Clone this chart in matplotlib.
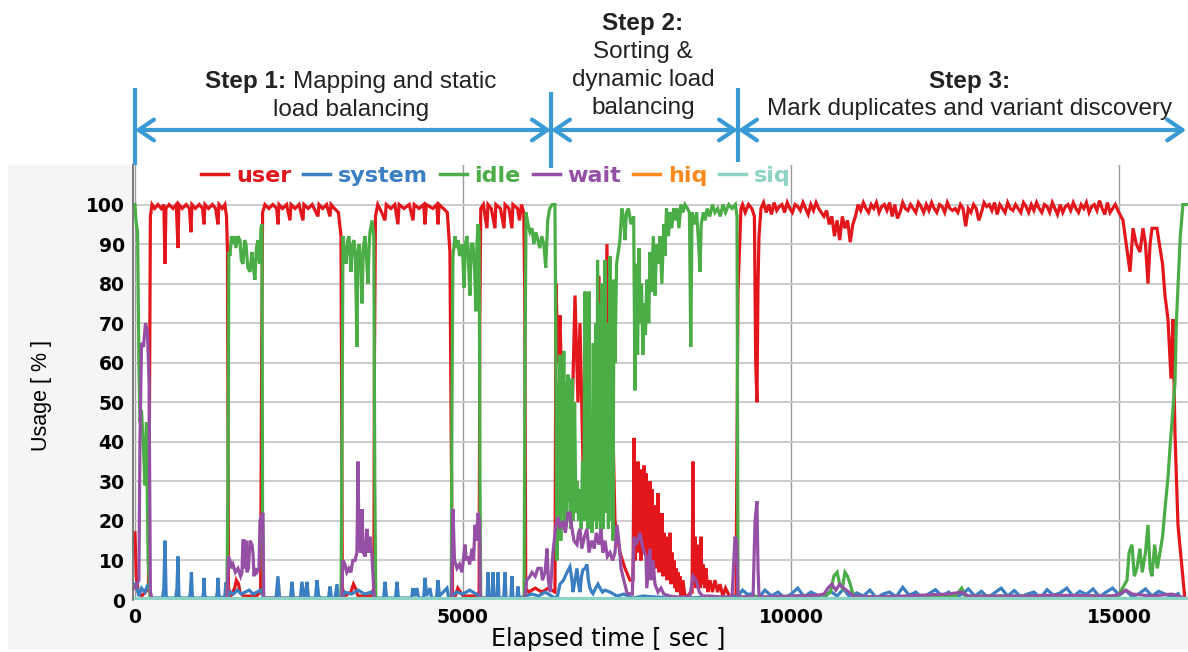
import numpy as np
import matplotlib.pyplot as plt
from matplotlib.patches import Rectangle
import matplotlib.transforms as mtransforms

plt.rcParams['font.family'] = ['Liberation Sans', 'DejaVu Sans']

# ---------------- data: (elapsed seconds, usage %) ----------------
series_names = ['user', 'system', 'idle', 'wait', 'hiq', 'siq']
series_colors = ['#e3161b', '#3a7fc2', '#4bad45', '#9550a6', '#fb8a1e', '#8dd3c4']

step_edges = [0, 6340, 9190, 16020]
# (bold part, rest of first line, further lines)
step_labels = [("Step 1:", "Mapping and static", ["load balancing"]),
               ("Step 2:", "", ["Sorting &", "dynamic load", "balancing"]),
               ("Step 3:", "", ["Mark duplicates and variant discovery"])]

user_head = [(0, 17), (20, 6), (50, 2), (100, 1), (160, 2), (205, 3), (220, 45), (235, 97), (260, 100),
             (300, 99), (350, 100), (400, 99), (440, 100), (457, 85), (472, 99), (520, 100), (580, 99),
             (630, 100), (655, 89), (670, 100), (720, 99), (780, 100), (830, 99), (853, 93), (868, 100),
             (920, 99), (980, 100), (1030, 99), (1052, 95), (1066, 100), (1120, 99), (1180, 100),
             (1230, 99), (1265, 95), (1280, 100), (1330, 99), (1370, 100), (1395, 97), (1410, 88),
             (1425, 3), (1460, 1), (1520, 3), (1545, 5), (1580, 4), (1600, 2), (1650, 1), (1750, 1),
             (1850, 1), (1915, 2), (1930, 60), (1945, 98), (1980, 100), (2040, 99), (2100, 100),
             (2160, 99), (2179, 95), (2195, 100), (2250, 99), (2310, 100), (2362, 96), (2378, 100),
             (2440, 99), (2500, 100), (2560, 96), (2575, 100), (2640, 99), (2700, 100), (2789, 97),
             (2805, 100), (2860, 99), (2920, 100), (2972, 97), (2988, 100), (3040, 99), (3100, 98),
             (3140, 92), (3160, 3), (3200, 1), (3290, 2), (3330, 4), (3360, 3), (3400, 1), (3500, 1),
             (3600, 1), (3640, 3), (3650, 62), (3665, 97), (3700, 100), (3760, 98), (3810, 96),
             (3830, 100), (3900, 99), (3960, 100), (4008, 95), (4025, 100), (4100, 99), (4180, 100),
             (4237, 96), (4255, 100), (4330, 99), (4400, 100), (4420, 95), (4440, 100), (4540, 99),
             (4600, 100), (4618, 95), (4635, 100), (4700, 99), (4760, 98), (4800, 88), (4820, 40),
             (4840, 2), (4880, 1), (4920, 3), (4960, 2), (5000, 1), (5100, 1), (5200, 1), (5245, 2),
             (5255, 70), (5270, 99), (5310, 100), (5364, 94), (5380, 100), (5430, 99), (5486, 94),
             (5500, 100), (5570, 99), (5624, 94), (5640, 100), (5700, 99), (5745, 94), (5760, 100),
             (5830, 99), (5860, 96), (5890, 100), (5925, 98), (5940, 78), (5955, 3), (6000, 2),
             (6100, 3), (6200, 2), (6300, 3), (6401, 2),
             # step 2
             (6416, 80), (6447, 60), (6477, 72), (6523, 40), (6568, 55), (6599, 30), (6660, 45),
             (6706, 77), (6751, 50), (6782, 70), (6827, 35), (6873, 40), (6934, 30), (7010, 45),
             (7071, 82), (7117, 37), (7163, 60), (7193, 90), (7224, 45), (7269, 55), (7315, 20),
             (7391, 12), (7468, 8), (7544, 5), (7590, 5), (7605, 41), (7620, 10), (7635, 30),
             (7650, 12), (7665, 35), (7680, 14), (7696, 33), (7710, 10), (7725, 28), (7742, 12),
             (7758, 34), (7772, 15), (7788, 32), (7802, 10), (7818, 27), (7833, 14), (7848, 30),
             (7863, 9), (7879, 28), (7894, 12), (7910, 24), (7925, 8), (7940, 22), (7955, 10),
             (7971, 27), (7986, 7), (8001, 20), (8016, 9), (8031, 22), (8047, 6), (8062, 17),
             (8077, 8), (8093, 16), (8108, 5), (8123, 15), (8138, 7), (8153, 17), (8168, 4),
             (8184, 12), (8199, 5), (8214, 10), (8230, 3), (8245, 8), (8260, 2), (8275, 7),
             (8291, 2), (8306, 6), (8321, 1), (8352, 5), (8380, 1), (8420, 1), (8470, 2), (8490, 2),
             (8504, 35), (8515, 4), (8534, 16), (8550, 3), (8565, 14), (8580, 5), (8595, 10),
             (8610, 3), (8626, 16), (8640, 4), (8656, 9), (8680, 3), (8702, 8), (8730, 2), (8763, 5),
             (8800, 2), (8839, 5), (8880, 2), (8915, 4), (8960, 1), (9000, 3), (9060, 1), (9160, 1),
             (9190, 78), (9235, 99), (9260, 100), (9300, 98), (9350, 100), (9400, 99), (9440, 97),
             (9460, 60), (9479, 50), (9495, 80), (9510, 92)]
# step 3 plateau, one reading every 40 s from 9540 s
user_band_start, user_band_dt = 9540, 40
user_band = [99, 100.5, 98, 100, 97.5, 100.5, 98.5, 99.5, 100, 98, 100.5, 99, 98, 100, 99.5, 98.5,
             100.5, 99, 97.5, 100, 98.5, 100.5, 99, 98,
             97, 98.5, 95, 97, 92, 96, 91, 97, 94, 96, 90.5, 95, 97,
             100, 98.5, 100.5, 99, 98, 100, 99, 100.5, 98, 99.5,
             100, 98.5, 100.5, 97, 100, 96.5, 98, 100.5, 99, 98.5,
             100, 99, 98, 100.5, 99.5, 98, 100, 98.5, 100.5, 99,
             98, 100, 99.5, 98, 100.5, 99, 98.5, 99, 98, 100,
             99, 94.5, 99, 98, 100, 99, 96, 98, 100.5, 99.5,
             100, 98.5, 100.5, 97.5, 100, 99, 98, 100.5, 99, 98.5,
             100, 99, 98, 100.5, 99.5, 98, 100, 98.5, 100.5, 99,
             98, 100, 99.5, 98, 100.5, 99, 97.5, 100, 98, 99.5,
             100, 98.5, 100.5, 99, 98, 100, 99, 100.5, 98, 99.5,
             100, 98.5, 101, 99, 97.5, 100.5, 98, 99, 100, 98.5]
user_tail = [(15057, 96), (15164, 83), (15210, 94), (15260, 90), (15316, 88), (15362, 94), (15400, 90),
             (15438, 80), (15470, 90), (15499, 94), (15575, 94), (15621, 89), (15660, 85), (15697, 77),
             (15743, 71), (15789, 56), (15819, 71), (15835, 55), (15850, 42), (15895, 19), (15956, 8),
             (16002, 0)]

idle_pts = [(0, 100), (15, 96), (40, 93), (60, 60), (76, 45), (100, 48), (130, 38), (152, 29), (175, 45),
            (200, 10), (229, 1), (260, 0), (1400, 0), (1418, 30), (1430, 88), (1448, 87), (1470, 92),
            (1494, 90), (1520, 92), (1539, 89), (1570, 92), (1600, 91), (1620, 86), (1646, 85),
            (1670, 91), (1692, 90), (1720, 84), (1753, 83), (1783, 88), (1805, 84), (1829, 81),
            (1850, 89), (1875, 91), (1890, 86), (1905, 85), (1920, 94), (1935, 95), (1945, 20),
            (1960, 0), (3140, 0), (3155, 40), (3170, 92), (3190, 88), (3216, 85), (3240, 91),
            (3261, 92), (3292, 83), (3315, 90), (3338, 91), (3360, 86), (3383, 64), (3398, 88),
            (3414, 90), (3440, 86), (3459, 75), (3480, 89), (3505, 92), (3530, 86), (3551, 80),
            (3570, 90), (3581, 93), (3612, 96), (3640, 92), (3655, 30), (3670, 0), (4820, 0),
            (4831, 50), (4846, 87), (4877, 92), (4900, 89), (4923, 91), (4945, 87), (4968, 88),
            (4990, 90), (5014, 79), (5035, 90), (5060, 92), (5080, 86), (5105, 77), (5125, 90),
            (5151, 90), (5175, 84), (5197, 73), (5212, 90), (5227, 95), (5245, 93), (5258, 30),
            (5270, 0), (5930, 0), (5944, 60), (5960, 98), (5990, 95), (6020, 93), (6050, 94),
            (6080, 90), (6110, 93), (6140, 91), (6170, 89), (6200, 92), (6230, 90), (6260, 84),
            (6290, 96), (6320, 99), (6360, 100), (6400, 100),
            # step 2
            (6416, 60), (6430, 10), (6445, 55), (6460, 20), (6475, 62), (6490, 15), (6505, 58),
            (6520, 22), (6535, 63), (6550, 18), (6565, 55), (6580, 20), (6600, 57), (6615, 25),
            (6630, 52), (6645, 18), (6660, 56), (6680, 20), (6700, 50), (6720, 22), (6740, 30),
            (6760, 20), (6780, 28), (6800, 18), (6820, 35), (6840, 20), (6858, 78), (6875, 20),
            (6890, 60), (6905, 18), (6920, 78), (6935, 22), (6950, 40), (6965, 17), (6985, 65),
            (7000, 20), (7020, 70), (7035, 18), (7050, 86), (7065, 20), (7087, 75), (7100, 16),
            (7120, 80), (7135, 18), (7163, 86), (7180, 22), (7200, 70), (7215, 18), (7239, 87),
            (7255, 20), (7270, 75), (7285, 15), (7300, 81), (7315, 60), (7340, 85), (7391, 91),
            (7420, 99), (7450, 96), (7468, 91), (7490, 98), (7520, 99), (7560, 95), (7600, 97),
            (7620, 53), (7640, 85), (7660, 62), (7680, 89), (7700, 70), (7720, 80), (7740, 62),
            (7760, 75), (7780, 67), (7800, 81), (7830, 70), (7849, 88), (7870, 78), (7900, 92),
            (7925, 77), (7950, 90), (7980, 85), (8001, 92), (8030, 80), (8060, 95), (8077, 87),
            (8100, 99), (8130, 92), (8153, 98), (8180, 94), (8210, 99), (8230, 96), (8260, 99),
            (8290, 94), (8320, 100), (8350, 98), (8382, 100), (8420, 99), (8450, 98), (8470, 64),
            (8490, 98), (8534, 95), (8560, 98), (8590, 90), (8611, 83), (8630, 95), (8660, 98),
            (8690, 96), (8720, 99), (8760, 97), (8800, 100), (8840, 98), (8880, 99), (8920, 97),
            (8960, 100), (9000, 98), (9050, 100), (9100, 99), (9150, 100), (9175, 97), (9190, 2),
            (9210, 0),
            # step 3
            (9400, 1), (9600, 0.5), (10000, 1), (10500, 1), (10600, 2), (10650, 6), (10700, 7),
            (10740, 4), (10780, 3), (10820, 7), (10860, 6), (10900, 4), (10950, 1), (11500, 0.5),
            (12500, 1), (12600, 3), (12650, 1), (14900, 1), (14980, 1), (15050, 3), (15118, 5),
            (15150, 12), (15194, 14), (15230, 6), (15270, 8), (15316, 13), (15350, 7), (15400, 12),
            (15438, 19), (15470, 8), (15499, 6), (15540, 14), (15580, 8), (15621, 12), (15660, 16),
            (15697, 23), (15743, 31), (15780, 40), (15804, 45), (15850, 55), (15870, 70), (15895, 79),
            (15930, 92), (15971, 100), (16040, 100)]

system_pts = [(0, 4), (30, 3), (60, 1), (100, 3), (150, 2), (200, 4), (250, 0.5), (420, 0.5), (440, 3),
              (457, 15), (475, 1), (500, 0.5), (620, 0.5), (640, 3), (655, 11), (670, 1), (700, 0.5),
              (830, 0.5), (845, 2), (860, 7), (875, 1), (900, 0.5), (1030, 0.5), (1045, 2), (1052, 5.6),
              (1065, 1), (1100, 0.5), (1240, 0.5), (1255, 2), (1265, 5.6), (1280, 1), (1330, 0.5),
              (1370, 1), (1385, 4.4), (1400, 1), (1418, 0.5), (1448, 2), (1500, 1.5), (1560, 2.5),
              (1620, 1.5), (1680, 2), (1740, 2.5), (1800, 1.5), (1860, 2), (1920, 2.5), (1950, 1),
              (1980, 0.5), (2150, 0.5), (2179, 6), (2205, 0.5), (2370, 0.5), (2393, 4.6), (2415, 0.5),
              (2520, 0.5), (2545, 4.6), (2575, 1), (2600, 0.5), (2621, 4.6), (2645, 0.5), (2750, 0.5),
              (2774, 5), (2800, 1), (2830, 0.5), (2950, 0.5), (2972, 3.4), (2995, 0.5), (3050, 0.5),
              (3078, 4), (3100, 0.5), (3155, 0.5), (3200, 2), (3300, 1.5), (3400, 2.5), (3500, 1.5),
              (3600, 2), (3650, 1), (3680, 0.5), (3790, 0.5), (3810, 4.6), (3835, 0.5), (3970, 0.5),
              (3993, 4.6), (4015, 0.5), (4215, 0.5), (4237, 3), (4260, 1), (4298, 3), (4320, 0.5),
              (4400, 0.5), (4420, 5.6), (4445, 1), (4496, 3), (4520, 0.5), (4595, 0.5), (4618, 5),
              (4640, 1), (4755, 3), (4780, 0.5), (4831, 1), (4900, 2), (5000, 1.5), (5100, 2.5),
              (5200, 1.5), (5258, 1), (5300, 0.5), (5365, 0.5), (5380, 7), (5395, 0.5), (5440, 0.5),
              (5456, 7), (5470, 0.5), (5515, 0.5), (5532, 7), (5548, 0.5), (5620, 0.5), (5639, 7),
              (5655, 0.5), (5728, 0.5), (5745, 6), (5760, 0.5), (5820, 0.5), (5837, 3.4), (5855, 0.5),
              (5944, 1), (6050, 1.5), (6150, 1), (6250, 2), (6350, 1), (6401, 0.5), (6440, 1),
              (6477, 4), (6530, 5), (6584, 7), (6629, 8.4), (6660, 5), (6675, 2), (6705, 5), (6736, 8),
              (6760, 4), (6782, 2), (6805, 6), (6827, 7.6), (6860, 8), (6888, 9), (6910, 5), (6934, 3),
              (6960, 2), (6980, 1.6), (7020, 3), (7056, 4), (7087, 3), (7125, 2), (7163, 2.5),
              (7239, 2), (7346, 1), (7450, 1.5), (7590, 0.5), (7742, 1), (7900, 0.8), (8100, 0.6),
              (8412, 0.5), (8700, 0.7), (9000, 0.5), (9190, 1), (9260, 2.5), (9327, 1.5)]
# step 3 jitter, one reading every 100 s from 9400 s
system_band_start, system_band_dt = 9400, 100
system_band = [1.5, 0.5, 2.5, 1.0, 2.0, 0.5, 1.5, 3.0, 0.8, 2.0, 1.2, 0.5, 2.2, 1.0, 2.8, 0.6, 1.8,
               1.0, 2.5, 0.5, 1.5, 2.0, 0.8, 3.2, 1.2, 2.0, 0.5, 1.6, 2.6, 1.0, 2.0, 0.7, 1.4, 2.8,
               1.0, 2.2, 0.6, 1.8, 3.0, 1.0, 2.4, 0.8, 1.5, 2.0, 0.6, 2.6, 1.2, 1.8, 3.0, 0.9, 2.2,
               1.4, 2.8, 0.8, 2.0, 3.0, 1.2, 2.4, 0.8, 1.6, 2.8, 1.0, 2.2, 1.5, 0.8, 1.6]

wait_pts = [(0, 3), (60, 5), (76, 40), (100, 65), (130, 64), (160, 70), (190, 68), (215, 55), (235, 2),
            (260, 0.3), (1400, 0.3), (1425, 11), (1448, 10), (1470, 8), (1494, 9), (1530, 7), (1570, 8),
            (1610, 6), (1631, 7), (1645, 15), (1661, 15), (1680, 8), (1692, 15), (1707, 7), (1730, 8),
            (1753, 15), (1783, 14), (1798, 12), (1815, 6), (1829, 8), (1859, 7), (1890, 8), (1905, 20),
            (1920, 21), (1951, 22), (1962, 0.5), (3150, 0.3), (3170, 10), (3200, 9), (3230, 7),
            (3260, 8), (3290, 7), (3320, 10), (3353, 10), (3383, 12), (3399, 35), (3414, 14),
            (3440, 12), (3459, 23), (3480, 12), (3510, 11), (3536, 18), (3560, 12), (3581, 16),
            (3612, 11), (3645, 1), (3665, 0.3), (4825, 0.3), (4846, 23), (4870, 10), (4907, 8),
            (4945, 9), (4983, 7), (5029, 14), (5050, 10), (5075, 11), (5100, 9), (5136, 13),
            (5160, 10), (5182, 19), (5205, 15), (5227, 22), (5250, 20), (5262, 0.5), (5940, 0.3),
            (5970, 5), (6020, 6), (6050, 7), (6100, 6), (6140, 8), (6190, 8), (6210, 5), (6250, 7),
            (6280, 13), (6300, 5), (6330, 2), (6370, 12), (6416, 19), (6447, 21), (6480, 18),
            (6523, 20), (6560, 17), (6599, 22), (6629, 22), (6660, 18), (6690, 15), (6736, 14),
            (6760, 17), (6782, 18), (6810, 13), (6850, 16), (6888, 18), (6920, 12), (6960, 15),
            (7000, 13), (7030, 17), (7071, 14), (7100, 18), (7130, 12), (7163, 15), (7200, 11),
            (7239, 12), (7280, 10), (7315, 12), (7346, 19), (7380, 14), (7407, 8), (7450, 5),
            (7500, 1.7), (7580, 1.5), (7605, 16), (7640, 14), (7696, 17), (7742, 13), (7788, 11),
            (7800, 3), (7849, 13), (7864, 5), (7895, 10), (7925, 4), (7971, 2), (8016, 3), (8060, 1.5),
            (8153, 1), (8245, 0.8), (8400, 0.8), (8458, 1), (8504, 6), (8550, 5), (8600, 2), (8650, 1),
            (8763, 1), (8915, 0.8), (9100, 0.8), (9144, 16), (9170, 15), (9190, 1), (9235, 0.8),
            (9420, 1), (9450, 20), (9479, 25), (9495, 8), (9510, 1), (9600, 0.8), (10000, 1),
            (10400, 1.2), (10500, 1.5), (10560, 3), (10620, 4), (10680, 2.5), (10740, 4), (10800, 3),
            (10880, 2), (10950, 1), (11300, 0.8), (11700, 1), (12400, 1.5), (12600, 2), (12700, 1),
            (13500, 1), (14000, 1.2), (14900, 1), (15000, 1.5), (15100, 2.5), (15200, 1.5), (15500, 1),
            (15800, 1.5), (16000, 0.5)]

hiq_pts = [(0, 0), (16040, 0)]
siq_pts = [(0, 0.4), (16040, 0.4)]


def unpack(pts):
    t, v = zip(*pts)
    return np.array(t, float), np.array(v, float)


ut1, uv1 = unpack(user_head)
ut3, uv3 = unpack(user_tail)
user_t = np.concatenate([ut1, user_band_start + user_band_dt * np.arange(len(user_band)), ut3])
user_v = np.concatenate([uv1, user_band, uv3])

st1, sv1 = unpack(system_pts)
system_t = np.concatenate([st1, system_band_start + system_band_dt * np.arange(len(system_band))])
system_v = np.concatenate([sv1, system_band])

idle_t, idle_v = unpack(idle_pts)
wait_t, wait_v = unpack(wait_pts)
hiq_t, hiq_v = unpack(hiq_pts)
siq_t, siq_v = unpack(siq_pts)

series = [(user_t, user_v), (system_t, system_v), (idle_t, idle_v),
          (wait_t, wait_v), (hiq_t, hiq_v), (siq_t, siq_v)]

# ---------------- figure ----------------
W, H = 1188, 652
fig = plt.figure(figsize=(W / 100, H / 100), dpi=100)
bg = Rectangle((8 / W, 4 / H), 1180 / W, 483 / H, transform=fig.transFigure,
               color='#f5f5f5', zorder=-10)
fig.add_artist(bg)
ax = fig.add_axes([133 / W, 52 / H, 1055 / W, 435 / H])
ax.set_zorder(1)
ax.set_facecolor('white')

lines = []
for (t, v), name, col in zip(series, series_names, series_colors):
    ln, = ax.plot(t, v, color=col, lw=2.3, label=name, solid_joinstyle='miter')
    lines.append(ln)

ax.set_xlim(-30, 16048)
ax.set_ylim(0, 110)
ax.set_yticks(range(0, 101, 10))
ax.set_xticks([0, 5000, 10000, 15000])
ax.yaxis.grid(True, color='#cccccc', lw=1.4)
ax.xaxis.grid(True, color='#9a9a9a', lw=1.0)
ax.set_axisbelow(True)
for s in ['top', 'right', 'bottom']:
    ax.spines[s].set_visible(False)
ax.spines['left'].set_color('#666666')
ax.spines['left'].set_linewidth(1.2)
ax.tick_params(length=0, pad=6)
for lab in ax.get_xticklabels() + ax.get_yticklabels():
    lab.set_fontfamily('DejaVu Sans')
    lab.set_fontweight('bold')
    lab.set_fontsize(13.5)

ax.set_xlabel('Elapsed time [ sec ]', fontsize=17, family='DejaVu Sans')
ax.xaxis.set_label_coords(0.45, -0.062)
ax.set_ylabel('Usage [ % ]', fontsize=15.5)
ax.yaxis.set_label_coords(-0.077, 0.47)

leg = ax.legend(handles=lines, loc='center', bbox_to_anchor=(0.344, 0.975), ncol=6, frameon=False,
                prop={'family': 'DejaVu Sans', 'weight': 'bold', 'size': 16}, labelcolor='linecolor',
                handlelength=1.2, handletextpad=0.35, columnspacing=0.55, borderaxespad=0)
for h in leg.get_lines():
    h.set_linewidth(2.5)

# ---------------- step annotations above the axes ----------------
arrow_col = '#3a9ad6'
trans = mtransforms.blended_transform_factory(ax.transData, fig.transFigure)
tick_tops = [88, 92, 88]
tick_bots = [165, 168, 162]
for i, x in enumerate(step_edges[:3]):
    ax.plot([x, x], [1 - tick_tops[i] / H, 1 - tick_bots[i] / H], transform=trans,
            color=arrow_col, lw=3, clip_on=False, solid_capstyle='butt')
y_arrow = 1 - 130 / H
for a, b in zip(step_edges[:-1], step_edges[1:]):
    ax.annotate('', xy=(b, y_arrow), xytext=(a, y_arrow), xycoords=trans, textcoords=trans,
                arrowprops=dict(arrowstyle='<->,head_length=1.1,head_width=0.75', lw=3,
                                color=arrow_col, shrinkA=0, shrinkB=0), annotation_clip=False)

renderer = fig.canvas.get_renderer()
fs = 17.5
label_x = [351, 643, 970]
label_base = [[88, 116], [30, 58, 86, 114], [88, 115]]
for (bold, rest, more), cx, bases in zip(step_labels, label_x, label_base):
    tb = fig.text(0, 1 - bases[0] / H, bold, fontsize=fs, weight='bold', color='#222222',
                  ha='left', va='baseline')
    wb = tb.get_window_extent(renderer).width
    if rest:
        tn = fig.text(0, 1 - bases[0] / H, rest, fontsize=fs, color='#222222', ha='left', va='baseline')
        wn = tn.get_window_extent(renderer).width
        gap = 0.28 * fs * 100 / 72
        left = cx - (wb + gap + wn) / 2
        tb.set_x(left / W)
        tn.set_x((left + wb + gap) / W)
    else:
        tb.set_x((cx - wb / 2) / W)
    for line, yb in zip(more, bases[1:]):
        fig.text(cx / W, 1 - yb / H, line, fontsize=fs, color='#222222', ha='center', va='baseline')

fig.savefig('out.png', dpi=100)
